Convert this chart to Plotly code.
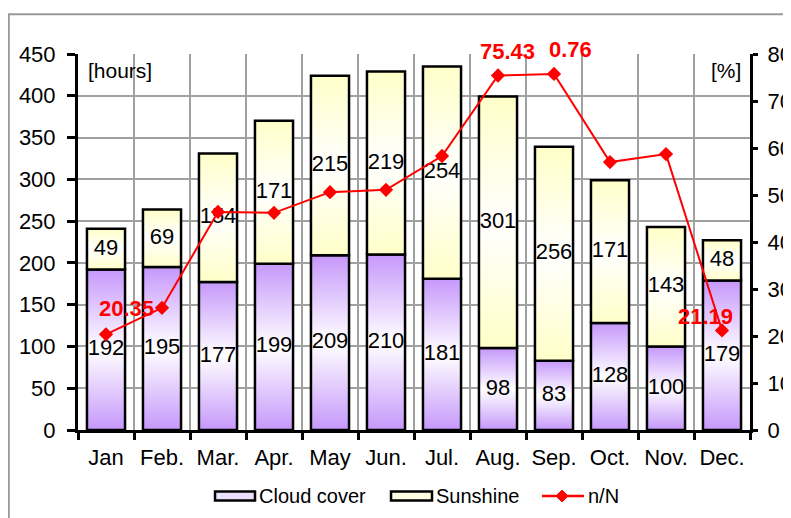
import plotly.graph_objects as go

months = ["Jan", "Feb.", "Mar.", "Apr.", "May", "Jun.", "Jul.", "Aug.", "Sep.", "Oct.", "Nov.", "Dec."]
cloud_cover = [192, 195, 177, 199, 209, 210, 181, 98, 83, 128, 100, 179]
sunshine = [49, 69, 154, 171, 215, 219, 254, 301, 256, 171, 143, 48]
n_over_N = [20.35, 26.0, 46.4, 46.2, 50.6, 51.1, 58.3, 75.43, 75.76, 57.0, 58.7, 21.19]
ratio_labels = {0: "20.35", 7: "75.43", 8: "0.76", 11: "21.19"}
label_shift = {0: (20, 26), 7: (9, 24), 8: (16, 24), 11: (-17, 14)}

FONT = "Liberation Sans, Arial, sans-serif"
PURPLE = "#c698fb"
YELLOW = "#ffffc8"
HALF = 0.34

fig = go.Figure()

def add_segment(i, base, val, edge, name):
    x0, x1 = i - HALF, i + HALF
    fig.add_trace(go.Scatter(
        x=[x0, x0, x1, x1, x0], y=[base, base + val, base + val, base, base],
        mode="lines", fill="toself",
        fillgradient=dict(type="vertical", colorscale=[[0, edge], [0.5, "#ffffff"], [1, edge]]),
        line=dict(color="black", width=2.5),
        name=name, showlegend=False, hoverinfo="skip",
    ))

for i in range(len(months)):
    add_segment(i, 0, cloud_cover[i], PURPLE, "Cloud cover")
for i in range(len(months)):
    add_segment(i, cloud_cover[i], sunshine[i], YELLOW, "Sunshine")

xs = list(range(len(months)))
# value labels centred in each segment
fig.add_trace(go.Scatter(
    x=xs + xs,
    y=[c / 2 for c in cloud_cover] + [c + s / 2 for c, s in zip(cloud_cover, sunshine)],
    text=[str(v) for v in cloud_cover] + [str(v) for v in sunshine],
    mode="text", textfont=dict(size=22, color="black", family=FONT),
    showlegend=False, hoverinfo="skip",
))

fig.add_trace(go.Scatter(
    x=xs, y=n_over_N, yaxis="y2", name="n/N", mode="lines+markers",
    line=dict(color="#ff0000", width=2),
    marker=dict(symbol="diamond", size=11, color="#ff0000"),
    showlegend=False,
))

for i, txt in ratio_labels.items():
    dx, dy = label_shift[i]
    fig.add_annotation(x=i, y=n_over_N[i], xref="x", yref="y2", text="<b>%s</b>" % txt,
                       showarrow=False, xshift=dx, yshift=dy,
                       font=dict(size=22, color="#ff0000", family=FONT))

fig.add_annotation(x=0.012, y=0.955, xref="paper", yref="paper", text="[hours]", showarrow=False,
                   xanchor="left", yanchor="middle", font=dict(size=21, color="black", family=FONT))
fig.add_annotation(x=0.99, y=0.955, xref="paper", yref="paper", text="[%]", showarrow=False,
                   xanchor="right", yanchor="middle", font=dict(size=21, color="black", family=FONT))

# outer chart frame
fig.add_shape(type="rect", xref="paper", yref="paper", x0=-0.103, y0=-0.4, x1=1.3, y1=1.106,
              line=dict(color="#999999", width=2), layer="below")

# manual legend
LEG_Y = -0.1755
fig.add_shape(type="rect", xref="paper", yref="paper", x0=0.2039, x1=0.2634, y0=-0.1875, y1=-0.1635,
              line=dict(color="black", width=2.5), fillcolor="#ebdffd")
fig.add_shape(type="rect", xref="paper", yref="paper", x0=0.4658, x1=0.5268, y0=-0.1875, y1=-0.1635,
              line=dict(color="black", width=2.5), fillcolor="#ffffe2")
fig.add_shape(type="line", xref="paper", yref="paper", x0=0.6905, x1=0.7530, y0=LEG_Y, y1=LEG_Y,
              line=dict(color="#ff0000", width=2.5))
fig.add_shape(type="path", xref="paper", yref="paper", xsizemode="pixel", ysizemode="pixel",
              xanchor=0.7202, yanchor=LEG_Y, path="M0,6 L6,0 L0,-6 L-6,0 Z",
              fillcolor="#ff0000", line=dict(color="#ff0000", width=1))
for x, txt in [(0.2665, "Cloud cover"), (0.5300, "Sunshine"), (0.7560, "n/N")]:
    fig.add_annotation(x=x, y=LEG_Y, xref="paper", yref="paper", text=txt, showarrow=False,
                       xanchor="left", yanchor="middle", font=dict(size=20, color="black", family=FONT))

GRID = "#a0a0a0"
fig.update_layout(
    width=791, height=518,
    margin=dict(l=70, r=49, t=46, b=96),
    paper_bgcolor="white", plot_bgcolor="white",
    font=dict(family=FONT, size=22, color="black"),
    showlegend=False,
    xaxis=dict(
        range=[-0.5, 11.5], tickmode="array", tickvals=xs, ticktext=months,
        showgrid=False, ticks="", zeroline=False, automargin=False,
        showline=True, linecolor="black", linewidth=3,
        tickfont=dict(size=22), ticklabelstandoff=6,
        minor=dict(tickmode="array", tickvals=[k - 0.5 for k in range(len(months) + 1)],
                   ticks="outside", ticklen=7, tickwidth=2.5, tickcolor="black",
                   showgrid=True, gridcolor=GRID, gridwidth=2),
    ),
    yaxis=dict(
        range=[0, 450], dtick=50, showgrid=True, gridcolor=GRID, gridwidth=2,
        zeroline=False, showline=True, linecolor="black", linewidth=3, automargin=False,
        ticks="outside", ticklen=8, tickwidth=2.5, tickcolor="black",
        tickfont=dict(size=22), ticklabelstandoff=7,
    ),
    yaxis2=dict(
        range=[0, 80], dtick=10, overlaying="y", side="right", showgrid=False,
        zeroline=False, showline=True, linecolor="black", linewidth=3, automargin=False,
        ticks="outside", ticklen=5, tickwidth=2.5, tickcolor="black",
        tickfont=dict(size=22), ticklabelstandoff=5,
    ),
)

fig.write_html("out.html")
